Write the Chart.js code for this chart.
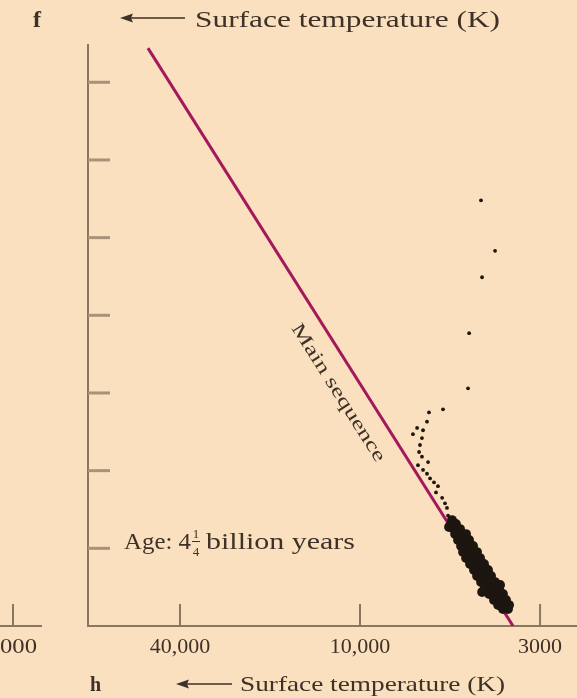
<!DOCTYPE html>
<html><head><meta charset="utf-8">
<script src="https://cdn.jsdelivr.net/npm/chart.js@4.4.0/dist/chart.umd.min.js"></script>
<style>html,body{margin:0;padding:0;background:#fae0bf;}#wrap{width:577px;height:698px;}</style>
</head><body><div id="wrap"><canvas id="c" width="577" height="698"></canvas></div>
<script>
// ---- data (x: schematic temperature position, 1=40,000 K, 2=10,000 K, 3=3000 K; y: luminosity steps) ----
const xTickValues = [1, 2, 3];
const xTickLabels = ['40,000', '10,000', '3000'];
const yTickValues = [1, 2, 3, 4, 5, 6, 7];
const mainSeqX = [0.822, 2.85];
const mainSeqY = [7.44, 0];
const giantX = [2.672,2.750,2.678,2.606,2.600,2.461,2.383,2.372,2.317,2.350,2.294,2.344,2.333,2.328,2.344,2.378,2.322,2.350,2.372,2.389,2.411,2.433,2.422,2.456,2.472,2.483,2.489];
const giantY = [5.48,4.83,4.49,3.77,3.06,2.79,2.75,2.63,2.55,2.52,2.47,2.42,2.33,2.24,2.18,2.11,2.07,2.01,1.96,1.90,1.85,1.80,1.72,1.65,1.58,1.52,1.42];
const dwarfX = [2.506,2.533, 2.522,2.556, 2.528,2.561,2.589, 2.544,2.578,2.606, 2.561,2.594,2.628, 2.572,2.611,2.650, 2.589,2.628,2.667, 2.611,2.650,2.689, 2.633,2.672,2.711, 2.650,2.689,2.728, 2.672,2.711,2.750, 2.694,2.733,2.772, 2.717,2.756,2.794, 2.744,2.778,2.811, 2.767,2.800,2.828, 2.794,2.822, 2.511,2.494,2.611,2.700,2.778,2.678];
const dwarfY = [1.313,1.313, 1.248,1.248, 1.184,1.184,1.184, 1.107,1.107,1.107, 1.030,1.030,1.030, 0.952,0.952,0.952, 0.875,0.875,0.875, 0.798,0.798,0.798, 0.721,0.721,0.721, 0.644,0.644,0.644, 0.566,0.566,0.566, 0.489,0.489,0.489, 0.412,0.412,0.412, 0.335,0.335,0.335, 0.270,0.270,0.270, 0.219,0.219, 1.364,1.274,1.004,0.721,0.528,0.438];

const BG = '#fae0bf';
const TEXT = '#3d3128';
const AXIS = '#8a7762';
const TICK = '#a8927a';
const LINE = '#a3195b';
const DOT = '#1c1510';
const FONT = '"Liberation Serif", "Times New Roman", serif';

const zip = (xs, ys) => xs.map((x, i) => ({x, y: ys[i]}));

function stretchText(ctx, text, x, y, size, width, weight) {
  ctx.save();
  ctx.font = (weight || 'normal') + ' ' + size + 'px ' + FONT;
  const w = ctx.measureText(text).width;
  const sx = width ? width / w : 1;
  ctx.translate(x, y); ctx.scale(sx, 1);
  ctx.textAlign = 'left'; ctx.textBaseline = 'alphabetic';
  ctx.fillStyle = TEXT;
  ctx.fillText(text, 0, 0);
  ctx.restore();
  return w * sx;
}
function arrow(ctx, x1, x2, y) {
  ctx.save();
  ctx.strokeStyle = TEXT; ctx.fillStyle = TEXT; ctx.lineWidth = 1.6;
  ctx.beginPath(); ctx.moveTo(x1 + 8, y); ctx.lineTo(x2, y); ctx.stroke();
  ctx.beginPath(); ctx.moveTo(x1, y); ctx.lineTo(x1 + 13, y - 4.5); ctx.lineTo(x1 + 11, y); ctx.lineTo(x1 + 13, y + 4.5); ctx.closePath(); ctx.fill();
  ctx.restore();
}

const deco = {
  id: 'deco',
  beforeDraw(chart) {
    const ctx = chart.ctx;
    ctx.save(); ctx.fillStyle = BG; ctx.fillRect(0, 0, chart.width, chart.height); ctx.restore();
  },
  afterDraw(chart) {
    const ctx = chart.ctx, xs = chart.scales.x, ys = chart.scales.y, ca = chart.chartArea;
    ctx.save();
    ctx.strokeStyle = TICK; ctx.lineWidth = 3;
    yTickValues.forEach(v => {
      const py = ys.getPixelForValue(v);
      ctx.beginPath(); ctx.moveTo(ca.left, py); ctx.lineTo(ca.left + 22, py); ctx.stroke();
    });
    ctx.strokeStyle = AXIS; ctx.lineWidth = 2;
    xTickValues.forEach(v => {
      const px = xs.getPixelForValue(v);
      ctx.beginPath(); ctx.moveTo(px, ca.bottom); ctx.lineTo(px, ca.bottom - 22); ctx.stroke();
    });
    // axis runs on to the panel edge
    ctx.beginPath(); ctx.moveTo(ca.right - 1, ca.bottom); ctx.lineTo(chart.width, ca.bottom); ctx.stroke();
    // neighbouring panel remnant
    ctx.beginPath(); ctx.moveTo(0, ca.bottom); ctx.lineTo(42, ca.bottom); ctx.stroke();
    ctx.beginPath(); ctx.moveTo(13, ca.bottom); ctx.lineTo(13, ca.bottom - 22); ctx.stroke();
    ctx.restore();
    stretchText(ctx, '000', 0, 653, 22, 37);

    // header
    stretchText(ctx, 'f', 33, 27, 24, 0, 'bold');
    arrow(ctx, 120, 185, 18);
    stretchText(ctx, 'Surface temperature (K)', 195, 27, 24, 305);
    // footer
    stretchText(ctx, 'h', 90, 691, 20, 0, 'bold');
    arrow(ctx, 176, 232, 684);
    stretchText(ctx, 'Surface temperature (K)', 240, 691, 21, 265);

    // age label
    let x = 124;
    x += stretchText(ctx, 'Age: 4', x, 549, 23, 67);
    ctx.save();
    ctx.font = '13px ' + FONT; ctx.fillStyle = TEXT; ctx.textAlign = 'center';
    const fx = x + 5;
    ctx.fillText('1', fx, 538);
    ctx.fillText('4', fx, 556);
    ctx.strokeStyle = TEXT; ctx.lineWidth = 1;
    ctx.beginPath(); ctx.moveTo(fx - 4, 541.5); ctx.lineTo(fx + 4, 541.5); ctx.stroke();
    ctx.restore();
    stretchText(ctx, 'billion years', fx + 10, 549, 23, 149);

    // main sequence label along the line
    const p1x = xs.getPixelForValue(mainSeqX[0]), p1y = ys.getPixelForValue(mainSeqY[0]);
    const p2x = xs.getPixelForValue(mainSeqX[1]), p2y = ys.getPixelForValue(mainSeqY[1]);
    const ang = Math.atan2(p2y - p1y, p2x - p1x);
    const len = Math.hypot(p2x - p1x, p2y - p1y);
    const t = 0.575, off = 23.5;
    const ux = (p2x - p1x) / len, uy = (p2y - p1y) / len;
    const cx = p1x + ux * len * t - uy * off, cy = p1y + uy * len * t + ux * off;
    ctx.save();
    ctx.translate(cx, cy); ctx.rotate(ang);
    ctx.font = '19px ' + FONT;
    const w = ctx.measureText('Main sequence').width;
    ctx.scale(160 / w, 1);
    ctx.fillStyle = TEXT; ctx.textAlign = 'center'; ctx.textBaseline = 'middle';
    ctx.fillText('Main sequence', 0, 0);
    ctx.restore();
  }
};

new Chart(document.getElementById('c'), {
  type: 'scatter',
  data: {
    datasets: [
      {type: 'line', data: zip(mainSeqX, mainSeqY), borderColor: LINE, borderWidth: 3, pointRadius: 0, fill: false, order: 3},
      {data: zip(dwarfX, dwarfY), backgroundColor: DOT, borderWidth: 0, pointRadius: 4.9, order: 1},
      {data: zip(giantX, giantY), backgroundColor: DOT, borderWidth: 0, pointRadius: 1.9, order: 2}
    ]
  },
  options: {
    responsive: false, animation: false, devicePixelRatio: 1,
    layout: {padding: {left: 0, right: 0, top: 45, bottom: 0}},
    plugins: {legend: {display: false}, tooltip: {enabled: false}},
    scales: {
      x: {
        type: 'linear', min: 0.489, max: 3.178,
        afterBuildTicks: s => { s.ticks = xTickValues.map(v => ({value: v})); },
        afterFit: s => { s.height = 72; },
        grid: {display: false, drawTicks: false},
        border: {display: true, color: AXIS, width: 2},
        ticks: {
          callback: v => { const i = xTickValues.indexOf(v); return i >= 0 ? xTickLabels[i] : ''; },
          font: {family: FONT, size: 22}, color: TEXT, padding: 8, maxRotation: 0, autoSkip: false
        }
      },
      y: {
        type: 'linear', min: 0, max: 7.48,
        afterFit: s => { s.width = 88; },
        grid: {display: false, drawTicks: false},
        border: {display: true, color: AXIS, width: 2},
        ticks: {display: false}
      }
    }
  },
  plugins: [deco]
});
</script>
</body></html>
